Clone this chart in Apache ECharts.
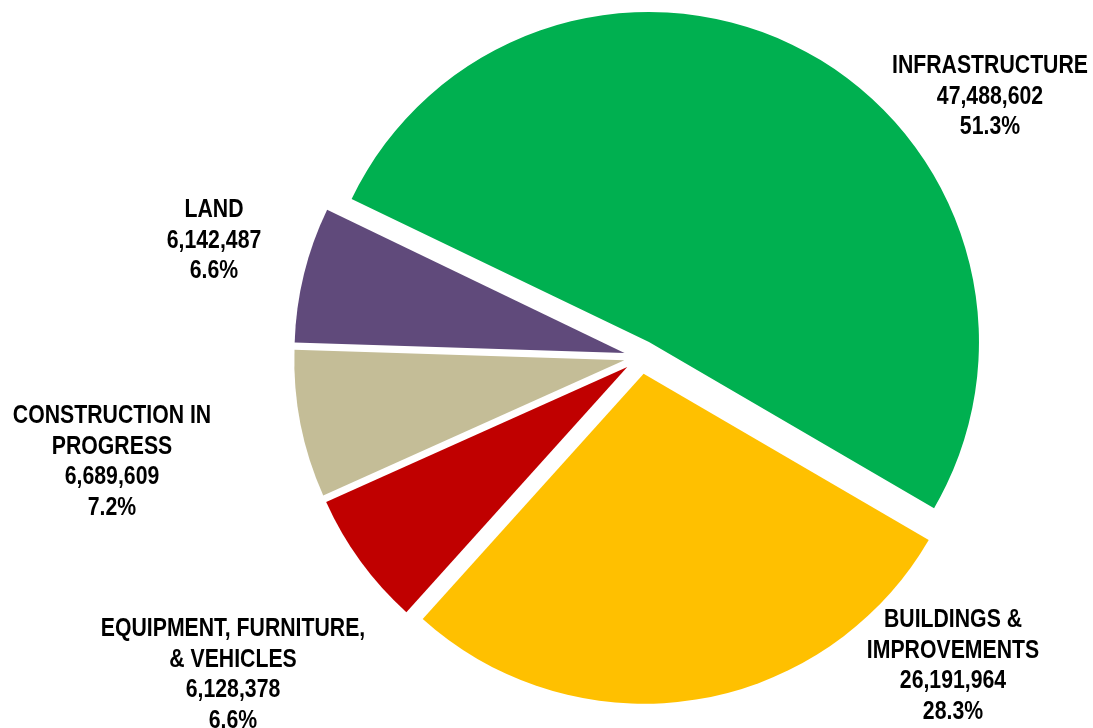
<!DOCTYPE html>
<html>
<head>
<meta charset="utf-8">
<script src="https://cdn.jsdelivr.net/npm/echarts@6/dist/echarts.min.js"></script>
<style>
  html, body { margin: 0; padding: 0; background: #ffffff; }
  #chart { width: 1093px; height: 728px; }
</style>
</head>
<body>
<div id="chart"></div>
<script>
// Capital assets by category
const categories = [
  'INFRASTRUCTURE',
  'BUILDINGS &\nIMPROVEMENTS',
  'EQUIPMENT, FURNITURE,\n& VEHICLES',
  'CONSTRUCTION IN\nPROGRESS',
  'LAND'
];
const values = [47488602, 26191964, 6128378, 6689609, 6142487];
const colors = ['#00B050', '#FFC000', '#C00000', '#C4BD97', '#604A7B'];

// Centre of each label block (px)
const labelAnchors = [
  [990, 97],
  [953, 666],
  [233, 675],
  [112, 462],
  [214, 241]
];

const total = values.reduce((a, b) => a + b, 0);
const pct = v => (v / total * 100).toFixed(1) + '%';

const chart = echarts.init(document.getElementById('chart'), null, { renderer: 'canvas' });

const data = categories.map((name, i) => ({
  name: name,
  value: values[i],
  selected: true,
  itemStyle: { color: colors[i] },
  select: { itemStyle: { color: colors[i], borderWidth: 0 } }
}));

// Condensed bold labels: regular bold face squeezed horizontally
const labelTexts = categories.map((name, i) => ({
  type: 'text',
  x: labelAnchors[i][0],
  y: labelAnchors[i][1],
  scaleX: 0.85,
  silent: true,
  style: {
    text: name + '\n' + values[i].toLocaleString('en-US') + '\n' + pct(values[i]),
    fontFamily: '"Liberation Sans", Arial, sans-serif',
    fontWeight: 'bold',
    fontSize: 25,
    lineHeight: 30.5,
    fill: '#000000',
    align: 'center',
    verticalAlign: 'middle'
  }
}));

chart.setOption({
  animation: false,
  backgroundColor: '#ffffff',
  graphic: labelTexts,
  series: [{
    type: 'pie',
    center: [641, 357],
    radius: 330,
    startAngle: 154.3,
    clockwise: true,
    selectedMode: 'multiple',
    selectedOffset: 17,
    itemStyle: { borderWidth: 0 },
    emphasis: { disabled: true },
    label: { show: false },
    labelLine: { show: false },
    data: data
  }]
});
</script>
</body>
</html>
